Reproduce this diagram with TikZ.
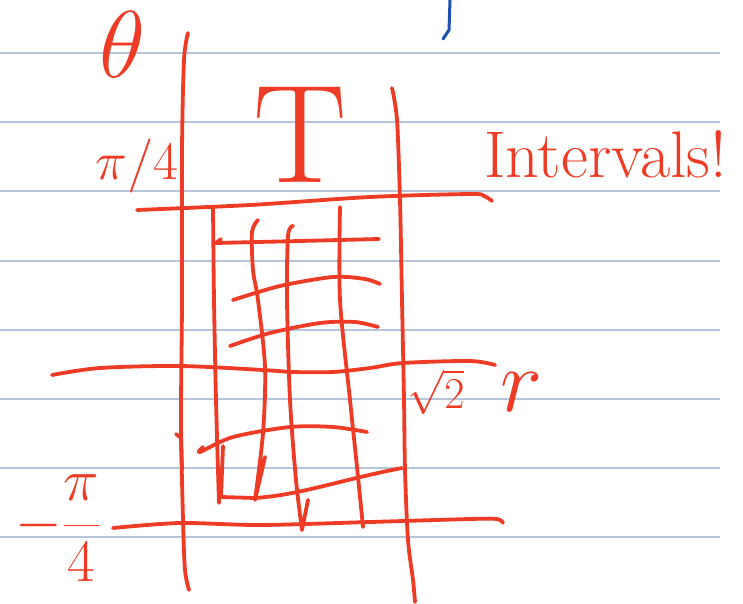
\RequirePackage{fix-cm}
\documentclass[tikz,border=0pt]{standalone}
\usetikzlibrary{calc}
\definecolor{inkred}{HTML}{EE3B26}
\definecolor{inkblue}{HTML}{1F4FB0}
\definecolor{ruleblue}{HTML}{B5C5DC}
\newcommand\inksize[1]{\fontsize{#1}{#1}\selectfont}
\tikzset{
  pen/.style={draw=inkred, line width=3.8pt, line cap=round, line join=round},
  rule/.style={draw=ruleblue, line width=1.3pt},
  lbl/.style={text=inkred, inner sep=0pt},
}
\begin{document}
\begin{tikzpicture}[x=1pt, y=-1pt]
  \fill[white] (0,0) rectangle (743,604);
  \useasboundingbox (0,0) rectangle (743,604);
  % ruled paper
  \foreach \y in {53,122,191,261,330,399,468,537}{ \draw[rule] (0,\y) -- (720,\y); }
  \draw[draw=inkblue, line width=3pt, line cap=round] (450,0) -- (449,30) -- (443,39);
  % axes
  \draw[pen] plot[smooth] coordinates {(188,33) (184,60) (182,150) (182,300) (181,420) (183,520) (185,570) (189,590)};
  \draw[pen] (176,434) -- (181,438) -- (182,470);
  \draw[pen] plot[smooth] coordinates {(392,88) (397,120) (400,200) (402,300) (404,400) (405,470) (408,540) (413,580) (415,602)};
  \draw[pen] plot[smooth] coordinates {(137,210) (250,205) (370,197) (470,194) (484,196) (492,201)};
  \draw[pen] plot[smooth] coordinates {(52,375) (100,368) (180,366) (263,370) (293,372) (333,372) (370,368) (403,363) (470,361) (495,365)};
  \draw[pen] plot[smooth] coordinates {(113,528) (180,523) (260,525) (370,522) (470,519) (497,519) (503,523)};
  % grid of intervals
  \draw[pen] plot[smooth] coordinates {(213,207) (214,300) (216,400) (219,503)};
  \draw[pen] (223,446) -- (221,497) -- (255,498) .. controls (300,495) and (340,480) .. (402,468);
  \draw[pen] (221,239) -- (216,243) -- (300,241) -- (379,239);
  \draw[pen] plot[smooth] coordinates {(233,300) (280,286) (333,277) (365,279) (380,284)};
  \draw[pen] plot[smooth] coordinates {(230,346) (270,333) (320,323) (355,322) (378,327)};
  \draw[pen] plot[smooth] coordinates {(203,447) (200,452) (233,437) (290,427) (333,427) (367,432)};
  \draw[pen] plot[smooth] coordinates {(258,220) (252,232) (253,270) (258,300) (265,367) (263,433) (255,500)} -- (265,457);
  \draw[pen] plot[smooth] coordinates {(293,226) (288,236) (287,300) (290,400) (296,480) (302,530)} -- (308,500);
  \draw[pen] plot[smooth] coordinates {(340,207) (340,300) (350,400) (357,467) (363,527)};
  % labels
  \node[lbl, font=\inksize{95}] (theta) at (122,45) {$\theta$};
  \node[lbl, font=\inksize{54}] (piq) at (137,166) {$\pi/4$};
  \node[lbl, font=\inksize{60}] (mpiq) at (58,528) {$-\displaystyle\frac{\pi}{4}$};
  \node[lbl, font=\inksize{140}] (T) at (300,135) {T};
  \node[lbl, font=\inksize{44}] (sq) at (436,392) {$\sqrt{2}$};
  \node[lbl, font=\inksize{90}] (r) at (522,392) {$r$};
  \node[lbl, font=\inksize{66}, anchor=base west] (intv) at (484,177) {Intervals!};
\end{tikzpicture}
\end{document}
